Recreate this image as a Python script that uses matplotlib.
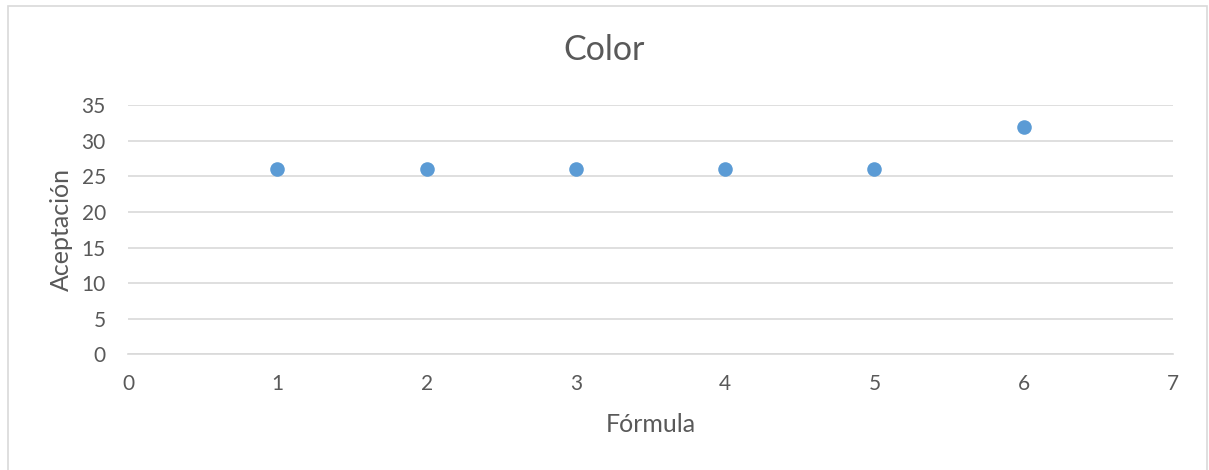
import matplotlib
matplotlib.use('Agg')
import matplotlib.pyplot as plt
from matplotlib.patches import Rectangle

# acceptance score per formula
formulas = [1, 2, 3, 4, 5, 6]
acceptance = [26, 26, 26, 26, 26, 32]

plt.rcParams['font.family'] = ['Lato', 'DejaVu Sans']
text_color = '#595959'
grid_color = '#D9D9D9'

fig = plt.figure(figsize=(12.09, 4.70), dpi=100)
ax = fig.add_axes([0.1059, 0.2462, 0.8643, 0.5298])

# light frame around the whole chart
fig.patches.append(Rectangle((8 / 1209, -0.02), 1199 / 1209, 464 / 470 + 0.02,
                             transform=fig.transFigure, fill=False,
                             edgecolor=grid_color, linewidth=1.2))

ax.scatter(formulas, acceptance, s=110, color='#5B9BD5', zorder=3, linewidths=0)

ax.set_xlim(0, 7)
ax.set_ylim(0, 35)
ax.set_xticks(range(0, 8))
ax.set_yticks(range(0, 36, 5))
ax.grid(axis='y', color=grid_color, linewidth=1.2)
ax.set_axisbelow(True)
for side in ['top', 'right', 'left']:
    ax.spines[side].set_visible(False)
ax.spines['bottom'].set_color(grid_color)
ax.spines['bottom'].set_linewidth(1.2)
ax.tick_params(length=0, labelsize=15, labelcolor=text_color)
ax.tick_params(axis='y', pad=16)
ax.tick_params(axis='x', pad=14)

# chart title is centred on the whole figure
fig.text(0.5, 1 - 50 / 470, 'Color', fontsize=24.5, color=text_color,
         ha='center', va='center')
ax.set_xlabel('Fórmula', fontsize=18, color=text_color, labelpad=14)
ax.set_ylabel('Aceptación', fontsize=18, color=text_color, labelpad=6)

fig.savefig('out.png', dpi=100)
